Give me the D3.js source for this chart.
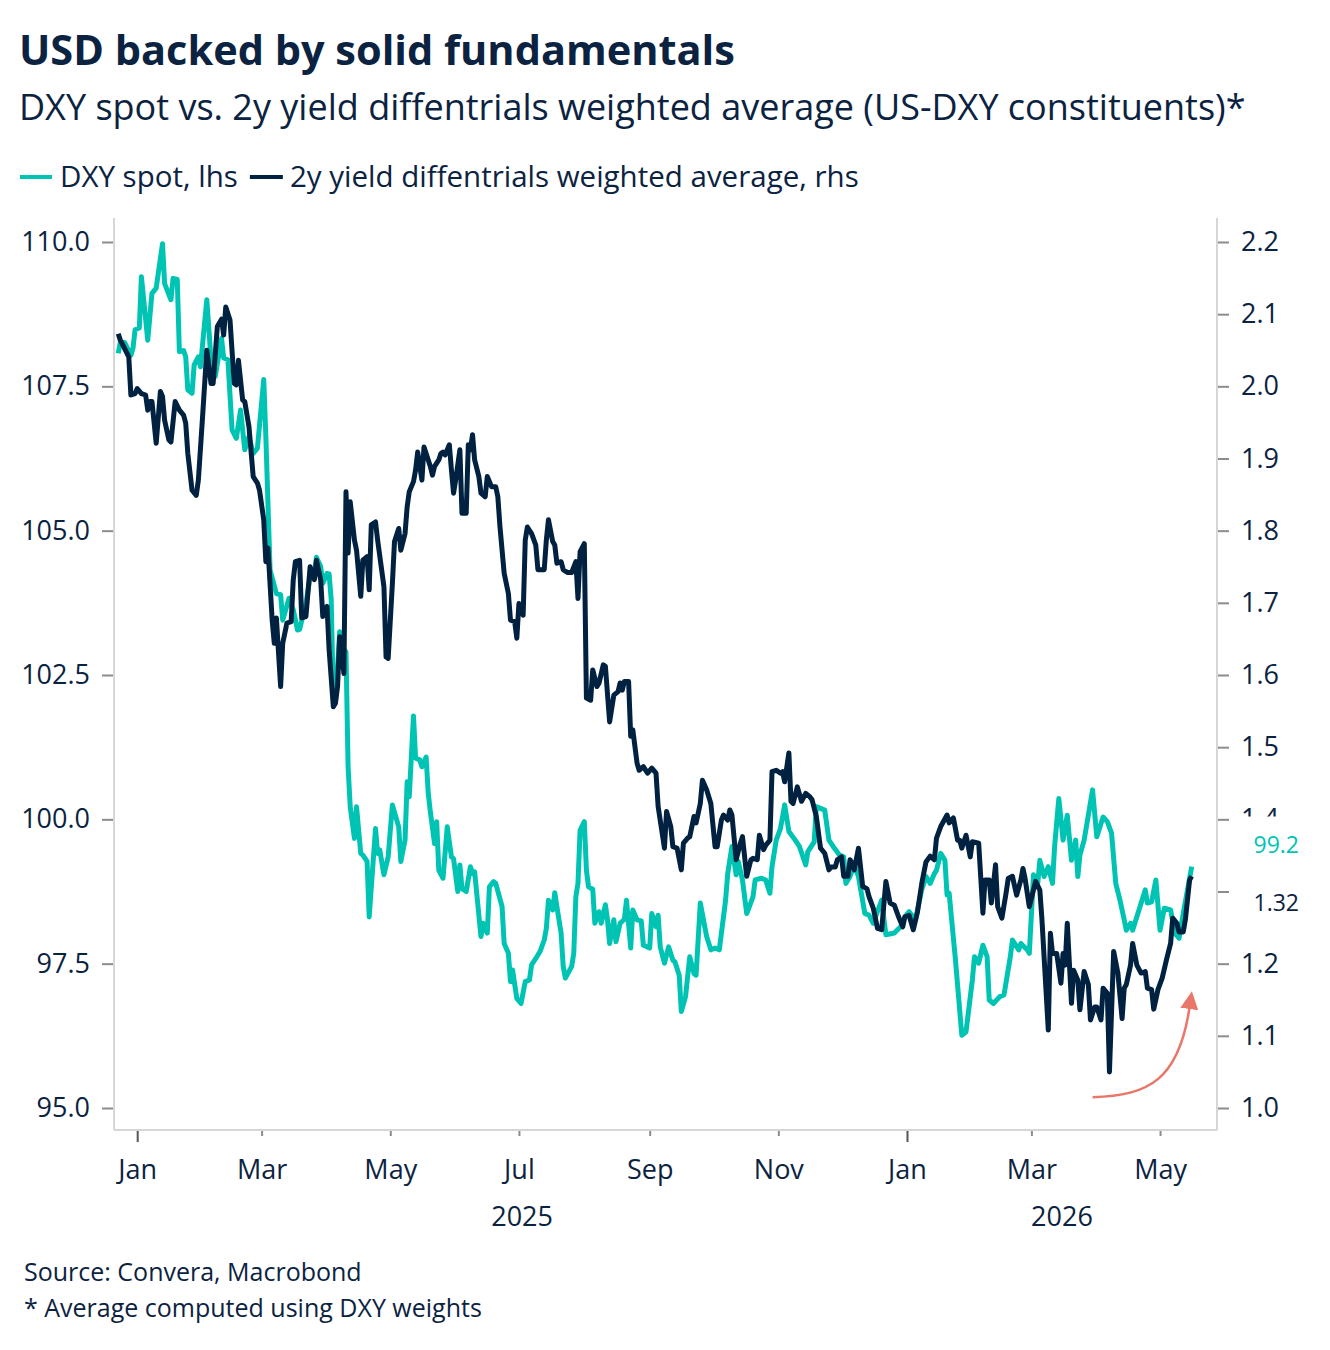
<!DOCTYPE html>
<html>
<head>
<meta charset="utf-8">
<script src="https://cdn.jsdelivr.net/npm/d3@7"></script>
<style>
  body { margin: 0; background: #fff; }
  text { font-family: "Open Sans", "Noto Sans", sans-serif; }
</style>
</head>
<body>
<div id="chart"></div>
<script>
// DXY spot (lhs)
const dxySpot = [
  ["2024-12-23",108.07],["2024-12-24",108.27],["2024-12-26",108.26],["2024-12-29",108.04],["2024-12-30",108.16],["2024-12-31",108.48],
  ["2025-01-02",108.51],["2025-01-03",109.40],["2025-01-06",108.30],["2025-01-08",109.11],["2025-01-10",109.20],["2025-01-13",109.97],
  ["2025-01-14",109.28],["2025-01-17",109.00],["2025-01-18",109.37],["2025-01-20",109.35],["2025-01-21",108.10],["2025-01-23",108.12],
  ["2025-01-24",108.01],["2025-01-25",107.44],["2025-01-27",107.38],["2025-01-28",107.87],["2025-01-30",108.01],["2025-01-31",107.84],
  ["2025-02-03",109.00],["2025-02-05",107.96],["2025-02-07",107.67],["2025-02-10",108.33],["2025-02-11",107.99],["2025-02-13",107.96],
  ["2025-02-15",106.74],["2025-02-17",106.60],["2025-02-19",107.09],["2025-02-21",106.40],["2025-02-23",106.63],["2025-02-25",106.34],
  ["2025-02-27",106.43],["2025-03-02",107.62],["2025-03-03",106.63],["2025-03-05",104.32],["2025-03-08",103.91],["2025-03-10",103.89],
  ["2025-03-11",103.45],["2025-03-14",103.83],["2025-03-16",103.63],["2025-03-18",103.28],["2025-03-19",103.29],["2025-03-22",103.74],
  ["2025-03-24",104.20],["2025-03-26",104.26],["2025-03-27",104.54],["2025-03-29",104.38],["2025-03-30",104.09],["2025-04-01",104.26],
  ["2025-04-02",104.25],["2025-04-03",103.80],["2025-04-04",102.07],["2025-04-06",102.64],["2025-04-07",103.25],["2025-04-08",102.99],
  ["2025-04-10",102.90],["2025-04-11",100.91],["2025-04-12",100.22],["2025-04-14",99.67],["2025-04-15",100.22],["2025-04-17",99.41],
  ["2025-04-18",99.38],["2025-04-20",99.27],["2025-04-21",98.31],["2025-04-24",99.84],["2025-04-25",99.41],["2025-04-26",99.47],
  ["2025-04-28",99.04],["2025-04-30",99.35],["2025-05-02",100.25],["2025-05-05",99.87],["2025-05-06",99.27],["2025-05-08",99.64],
  ["2025-05-09",100.65],["2025-05-10",100.39],["2025-05-12",101.79],["2025-05-13",101.06],["2025-05-15",101.03],["2025-05-16",100.91],
  ["2025-05-18",101.08],["2025-05-19",100.45],["2025-05-20",100.13],["2025-05-22",99.58],["2025-05-23",99.96],["2025-05-24",99.12],
  ["2025-05-26",98.98],["2025-05-28",99.87],["2025-05-30",99.35],["2025-05-31",99.32],["2025-06-02",98.75],["2025-06-03",99.21],
  ["2025-06-04",98.80],["2025-06-06",98.75],["2025-06-08",99.18],["2025-06-09",99.06],["2025-06-10",99.09],["2025-06-13",97.97],
  ["2025-06-14",98.20],["2025-06-16",98.03],["2025-06-17",98.83],["2025-06-19",98.92],["2025-06-20",98.89],["2025-06-23",98.49],
  ["2025-06-24",97.85],["2025-06-26",97.68],["2025-06-27",97.19],["2025-06-28",97.39],["2025-06-30",96.90],["2025-07-02",96.81],
  ["2025-07-04",97.19],["2025-07-06",97.22],["2025-07-07",97.48],["2025-07-09",97.59],["2025-07-11",97.71],["2025-07-13",97.91],
  ["2025-07-14",98.11],["2025-07-15",98.60],["2025-07-17",98.43],["2025-07-18",98.73],["2025-07-19",98.49],["2025-07-21",98.03],
  ["2025-07-22",97.45],["2025-07-23",97.25],["2025-07-26",97.45],["2025-07-27",97.68],["2025-07-28",98.66],["2025-07-29",98.89],
  ["2025-07-30",99.81],["2025-08-01",99.96],["2025-08-02",99.12],["2025-08-03",98.83],["2025-08-05",98.79],["2025-08-06",98.20],
  ["2025-08-08",98.40],["2025-08-09",98.20],["2025-08-11",98.52],["2025-08-12",98.26],["2025-08-13",97.85],["2025-08-15",98.26],
  ["2025-08-16",97.88],["2025-08-18",98.20],["2025-08-20",98.27],["2025-08-21",98.60],["2025-08-23",97.77],["2025-08-24",98.43],
  ["2025-08-26",98.26],["2025-08-28",98.24],["2025-08-29",97.82],["2025-09-01",97.77],["2025-09-02",98.37],["2025-09-04",98.14],
  ["2025-09-05",98.34],["2025-09-06",97.79],["2025-09-08",97.51],["2025-09-10",97.79],["2025-09-12",97.56],["2025-09-13",97.53],
  ["2025-09-15",97.30],["2025-09-16",96.67],["2025-09-18",96.93],["2025-09-20",97.62],["2025-09-22",97.33],["2025-09-23",97.30],
  ["2025-09-25",98.55],["2025-09-28",97.97],["2025-09-30",97.74],["2025-10-02",97.77],["2025-10-04",97.74],["2025-10-07",98.60],
  ["2025-10-08",99.06],["2025-10-10",99.53],["2025-10-12",99.04],["2025-10-13",99.27],["2025-10-15",98.95],["2025-10-17",98.37],
  ["2025-10-18",98.46],["2025-10-20",98.66],["2025-10-21",98.95],["2025-10-24",98.98],["2025-10-26",98.95],["2025-10-28",98.72],
  ["2025-10-29",99.18],["2025-10-31",99.64],["2025-11-02",99.84],["2025-11-04",100.25],["2025-11-06",99.79],["2025-11-09",99.64],
  ["2025-11-11",99.53],["2025-11-14",99.21],["2025-11-15",99.44],["2025-11-18",99.61],["2025-11-19",100.22],["2025-11-21",100.19],
  ["2025-11-23",100.16],["2025-11-25",99.64],["2025-11-27",99.53],["2025-11-30",99.38],["2025-12-02",99.35],["2025-12-03",98.89],
  ["2025-12-05",99.01],["2025-12-07",99.21],["2025-12-09",99.01],["2025-12-12",98.37],["2025-12-14",98.34],["2025-12-16",98.20],
  ["2025-12-20",98.60],["2025-12-22",98.00],["2025-12-26",98.03],["2025-12-29",98.14],["2025-12-31",98.31],["2026-01-02",98.40],
  ["2026-01-05",98.26],["2026-01-08",98.78],["2026-01-10",99.01],["2026-01-12",98.89],["2026-01-14",99.06],["2026-01-15",99.12],
  ["2026-01-17",99.41],["2026-01-19",99.29],["2026-01-20",98.69],["2026-01-21",98.72],["2026-01-24",97.56],["2026-01-27",96.26],
  ["2026-01-29",96.32],["2026-02-01",97.22],["2026-02-02",97.62],["2026-02-04",97.51],["2026-02-06",97.82],["2026-02-08",97.62],
  ["2026-02-09",96.87],["2026-02-11",96.81],["2026-02-14",96.93],["2026-02-16",96.96],["2026-02-19",97.62],["2026-02-20",97.91],
  ["2026-02-23",97.74],["2026-02-24",97.85],["2026-02-27",97.74],["2026-02-28",97.68],["2026-03-02",99.04],["2026-03-04",98.89],
  ["2026-03-05",99.29],["2026-03-07",99.01],["2026-03-09",99.18],["2026-03-11",98.89],["2026-03-12",99.53],["2026-03-14",100.36],
  ["2026-03-16",99.64],["2026-03-18",100.07],["2026-03-20",99.29],["2026-03-22",99.64],["2026-03-23",99.01],["2026-03-24",99.38],
  ["2026-03-26",99.64],["2026-03-30",100.51],["2026-04-01",99.70],["2026-04-04",100.04],["2026-04-06",99.96],["2026-04-08",99.76],
  ["2026-04-10",98.89],["2026-04-12",98.60],["2026-04-14",98.26],["2026-04-15",98.08],["2026-04-17",98.20],["2026-04-18",98.08],
  ["2026-04-21",98.43],["2026-04-24",98.78],["2026-04-25",98.55],["2026-04-27",98.57],["2026-04-29",98.95],["2026-05-01",98.08],
  ["2026-05-03",98.46],["2026-05-06",98.43],["2026-05-08",98.03],["2026-05-10",97.94],["2026-05-12",98.37],["2026-05-16",99.18]
];

// 2y yield differentials weighted average (rhs)
const yieldDiff = [
  ["2024-12-23",2.073],["2024-12-24",2.064],["2024-12-28",2.041],["2024-12-29",1.988],["2024-12-31",1.990],["2025-01-01",1.997],
  ["2025-01-03",1.990],["2025-01-05",1.988],["2025-01-06",1.967],["2025-01-07",1.979],["2025-01-08",1.979],["2025-01-10",1.921],
  ["2025-01-12",1.993],["2025-01-13",1.986],["2025-01-14",1.953],["2025-01-16",1.926],["2025-01-17",1.923],["2025-01-19",1.979],
  ["2025-01-21",1.967],["2025-01-23",1.960],["2025-01-24",1.949],["2025-01-25",1.907],["2025-01-27",1.856],["2025-01-29",1.849],
  ["2025-01-30",1.870],["2025-02-01",1.958],["2025-02-03",2.050],["2025-02-05",2.004],["2025-02-06",2.004],["2025-02-08",2.083],
  ["2025-02-10",2.093],["2025-02-11",2.071],["2025-02-12",2.110],["2025-02-14",2.092],["2025-02-16",2.004],["2025-02-17",2.002],
  ["2025-02-18",2.036],["2025-02-20",1.981],["2025-02-21",1.979],["2025-02-23",1.944],["2025-02-25",1.875],["2025-02-27",1.866],
  ["2025-02-28",1.856],["2025-03-02",1.815],["2025-03-03",1.757],["2025-03-04",1.776],["2025-03-06",1.676],["2025-03-07",1.644],
  ["2025-03-08",1.679],["2025-03-10",1.584],["2025-03-11",1.644],["2025-03-13",1.672],["2025-03-15",1.674],["2025-03-16",1.732],
  ["2025-03-17",1.757],["2025-03-19",1.759],["2025-03-20",1.679],["2025-03-22",1.681],["2025-03-24",1.750],["2025-03-26",1.732],
  ["2025-03-27",1.759],["2025-03-29",1.732],["2025-03-30",1.681],["2025-04-01",1.695],["2025-04-02",1.635],["2025-04-04",1.556],
  ["2025-04-05",1.561],["2025-04-06",1.584],["2025-04-07",1.653],["2025-04-08",1.632],["2025-04-09",1.602],["2025-04-10",1.854],
  ["2025-04-11",1.769],["2025-04-12",1.840],["2025-04-14",1.787],["2025-04-15",1.773],["2025-04-17",1.709],["2025-04-18",1.759],
  ["2025-04-20",1.764],["2025-04-21",1.718],["2025-04-22",1.808],["2025-04-24",1.812],["2025-04-25",1.787],["2025-04-28",1.722],
  ["2025-04-29",1.625],["2025-04-30",1.623],["2025-05-02",1.727],["2025-05-03",1.785],["2025-05-05",1.803],["2025-05-06",1.773],
  ["2025-05-08",1.796],["2025-05-09",1.833],["2025-05-10",1.854],["2025-05-12",1.868],["2025-05-13",1.884],["2025-05-14",1.909],
  ["2025-05-16",1.870],["2025-05-17",1.916],["2025-05-20",1.889],["2025-05-21",1.877],["2025-05-22",1.889],["2025-05-24",1.898],
  ["2025-05-25",1.907],["2025-05-26",1.909],["2025-05-27",1.905],["2025-05-29",1.919],["2025-05-30",1.884],["2025-05-31",1.852],
  ["2025-06-01",1.870],["2025-06-03",1.912],["2025-06-04",1.824],["2025-06-06",1.824],["2025-06-07",1.919],["2025-06-08",1.912],
  ["2025-06-09",1.933],["2025-06-10",1.898],["2025-06-12",1.875],["2025-06-13",1.852],["2025-06-15",1.847],["2025-06-16",1.875],
  ["2025-06-18",1.861],["2025-06-20",1.861],["2025-06-21",1.847],["2025-06-22",1.806],["2025-06-24",1.741],["2025-06-26",1.713],
  ["2025-06-27",1.676],["2025-06-29",1.674],["2025-06-30",1.651],["2025-07-01",1.699],["2025-07-03",1.683],["2025-07-04",1.787],
  ["2025-07-05",1.805],["2025-07-07",1.796],["2025-07-09",1.780],["2025-07-10",1.746],["2025-07-11",1.746],["2025-07-13",1.746],
  ["2025-07-14",1.787],["2025-07-15",1.815],["2025-07-17",1.785],["2025-07-18",1.780],["2025-07-19",1.755],["2025-07-21",1.757],
  ["2025-07-22",1.746],["2025-07-24",1.742],["2025-07-26",1.742],["2025-07-28",1.757],["2025-07-29",1.706],["2025-07-30",1.771],
  ["2025-08-01",1.782],["2025-08-02",1.568],["2025-08-04",1.565],["2025-08-05",1.607],["2025-08-07",1.584],["2025-08-08",1.589],
  ["2025-08-10",1.614],["2025-08-11",1.612],["2025-08-13",1.535],["2025-08-15",1.572],["2025-08-17",1.577],["2025-08-18",1.589],
  ["2025-08-19",1.579],["2025-08-20",1.591],["2025-08-22",1.591],["2025-08-23",1.515],["2025-08-24",1.524],["2025-08-26",1.478],
  ["2025-08-27",1.468],["2025-08-29",1.473],["2025-08-31",1.464],["2025-09-02",1.471],["2025-09-04",1.464],["2025-09-05",1.418],
  ["2025-09-08",1.360],["2025-09-09",1.411],["2025-09-11",1.390],["2025-09-12",1.362],["2025-09-14",1.360],["2025-09-16",1.330],
  ["2025-09-17",1.367],["2025-09-19",1.374],["2025-09-20",1.376],["2025-09-22",1.404],["2025-09-23",1.395],["2025-09-25",1.422],
  ["2025-09-26",1.454],["2025-09-28",1.441],["2025-09-30",1.422],["2025-10-02",1.362],["2025-10-03",1.362],["2025-10-05",1.399],
  ["2025-10-06",1.406],["2025-10-08",1.399],["2025-10-09",1.413],["2025-10-10",1.406],["2025-10-12",1.344],["2025-10-14",1.367],
  ["2025-10-15",1.376],["2025-10-17",1.321],["2025-10-19",1.344],["2025-10-20",1.346],["2025-10-22",1.344],["2025-10-23",1.378],
  ["2025-10-25",1.358],["2025-10-26",1.364],["2025-10-28",1.371],["2025-10-29",1.466],["2025-10-31",1.468],["2025-11-02",1.464],
  ["2025-11-03",1.466],["2025-11-04",1.452],["2025-11-06",1.492],["2025-11-07",1.425],["2025-11-08",1.422],["2025-11-10",1.445],
  ["2025-11-12",1.425],["2025-11-14",1.436],["2025-11-16",1.431],["2025-11-17",1.427],["2025-11-19",1.404],["2025-11-21",1.360],
  ["2025-11-23",1.353],["2025-11-25",1.330],["2025-11-26",1.334],["2025-11-28",1.334],["2025-11-29",1.344],["2025-12-01",1.348],
  ["2025-12-02",1.321],["2025-12-04",1.321],["2025-12-05",1.344],["2025-12-06",1.339],["2025-12-07",1.330],["2025-12-09",1.360],
  ["2025-12-11",1.307],["2025-12-13",1.304],["2025-12-14",1.293],["2025-12-16",1.277],["2025-12-18",1.249],["2025-12-20",1.247],
  ["2025-12-22",1.314],["2025-12-24",1.284],["2025-12-26",1.281],["2025-12-28",1.265],["2025-12-30",1.251],["2025-12-31",1.265],
  ["2026-01-02",1.267],["2026-01-04",1.247],["2026-01-06",1.272],["2026-01-08",1.311],["2026-01-10",1.341],["2026-01-12",1.349],
  ["2026-01-14",1.344],["2026-01-15",1.374],["2026-01-17",1.390],["2026-01-20",1.406],["2026-01-21",1.395],["2026-01-23",1.402],
  ["2026-01-25",1.371],["2026-01-26",1.371],["2026-01-27",1.360],["2026-01-29",1.378],["2026-01-31",1.348],["2026-02-01",1.369],
  ["2026-02-04",1.367],["2026-02-06",1.270],["2026-02-07",1.316],["2026-02-09",1.316],["2026-02-10",1.284],["2026-02-12",1.337],
  ["2026-02-13",1.279],["2026-02-15",1.263],["2026-02-17",1.298],["2026-02-18",1.318],["2026-02-20",1.321],["2026-02-22",1.295],
  ["2026-02-24",1.316],["2026-02-25",1.332],["2026-02-26",1.318],["2026-02-28",1.279],["2026-03-03",1.314],["2026-03-05",1.302],
  ["2026-03-06",1.261],["2026-03-09",1.108],["2026-03-10",1.242],["2026-03-11",1.214],["2026-03-13",1.214],["2026-03-15",1.173],
  ["2026-03-16",1.214],["2026-03-17",1.198],["2026-03-18",1.256],["2026-03-20",1.145],["2026-03-21",1.191],["2026-03-23",1.177],
  ["2026-03-24",1.136],["2026-03-26",1.189],["2026-03-28",1.171],["2026-03-29",1.122],["2026-03-31",1.140],["2026-04-01",1.140],
  ["2026-04-03",1.122],["2026-04-04",1.166],["2026-04-06",1.159],["2026-04-07",1.050],["2026-04-09",1.217],["2026-04-11",1.187],
  ["2026-04-13",1.124],["2026-04-14",1.166],["2026-04-15",1.171],["2026-04-17",1.198],["2026-04-18",1.228],["2026-04-20",1.198],
  ["2026-04-22",1.187],["2026-04-24",1.189],["2026-04-25",1.166],["2026-04-27",1.164],["2026-04-28",1.137],["2026-04-30",1.164],
  ["2026-05-02",1.180],["2026-05-04",1.205],["2026-05-06",1.228],["2026-05-07",1.263],["2026-05-09",1.256],["2026-05-10",1.244],
  ["2026-05-12",1.244],["2026-05-13",1.261],["2026-05-15",1.316],["2026-05-16",1.321]
];

const leftTicks = [95, 97.5, 100, 102.5, 105, 107.5, 110];
const rightTicks = [1.0, 1.1, 1.2, 1.3, 1.4, 1.5, 1.6, 1.7, 1.8, 1.9, 2.0, 2.1, 2.2];
const years = ["2025", "2026"];
// annotation arrow (date, rhs value): start, two control points, end
const arrowPts = [["2026-03-30",1.015],["2026-04-26",1.017],["2026-05-10",1.040],["2026-05-15",1.140]];

const teal = "#00c4b3", navy = "#00213f", ink = "#0b2341";

const W = 1330, H = 1350;
const plot = {left: 114, right: 1217, top: 218, bottom: 1130};

const parse = d3.utcParse("%Y-%m-%d");

const svg = d3.select("#chart").append("svg")
    .attr("width", W)
    .attr("height", H);

// scales
const x = d3.scaleUtc()
    .domain([parse("2024-12-21"), parse("2026-05-28")])
    .range([plot.left, plot.right]);
const yL = d3.scaleLinear().domain([95, 110]).range([1108, 242]);
const yR = d3.scaleLinear().domain([1.0, 2.2]).range([1108, 242]);

// title, subtitle
svg.append("text").attr("x", 19).attr("y", 65)
    .attr("font-size", 41.5).attr("font-weight", 700).attr("fill", ink)
    .text("USD backed by solid fundamentals");
svg.append("text").attr("x", 19).attr("y", 120)
    .attr("font-size", 36).attr("fill", ink)
    .text("DXY spot vs. 2y yield diffentrials weighted average (US-DXY constituents)*");

// legend
const leg = svg.append("g").attr("transform", "translate(20,177)");
leg.append("line").attr("x1", 0).attr("x2", 32).attr("stroke", teal).attr("stroke-width", 4);
const l1 = leg.append("text").attr("x", 40).attr("y", 10).attr("font-size", 29.5).attr("fill", ink)
    .text("DXY spot, lhs");
const l1End = 40 + l1.node().getComputedTextLength() + 12;
leg.append("line").attr("x1", l1End).attr("x2", l1End + 33).attr("stroke", navy).attr("stroke-width", 4);
leg.append("text").attr("x", l1End + 40).attr("y", 10).attr("font-size", 29.5).attr("fill", ink)
    .text("2y yield diffentrials weighted average, rhs");

// frame
const frame = svg.append("g").attr("stroke", "#d6d6d6").attr("stroke-width", 2);
frame.append("line").attr("x1", plot.left).attr("x2", plot.left).attr("y1", plot.top).attr("y2", plot.bottom);
frame.append("line").attr("x1", plot.right).attr("x2", plot.right).attr("y1", plot.top).attr("y2", plot.bottom);
frame.append("line").attr("x1", plot.left).attr("x2", plot.right).attr("y1", plot.bottom).attr("y2", plot.bottom);

// left axis
const axL = svg.append("g").attr("transform", `translate(${plot.left - 1},0)`)
    .call(d3.axisLeft(yL).tickValues(leftTicks).tickFormat(d3.format(".1f")).tickSize(11).tickPadding(12));
// right axis
const axR = svg.append("g").attr("transform", `translate(${plot.right + 1},0)`)
    .call(d3.axisRight(yR).tickValues(rightTicks).tickFormat(d3.format(".1f")).tickSize(11).tickPadding(12));
[axL, axR].forEach(a => {
  a.select(".domain").remove();
  a.selectAll(".tick line").attr("stroke", "#8c8c8c").attr("stroke-width", 2);
  a.selectAll(".tick text").attr("font-size", 27).attr("fill", ink)
      .style("font-family", '"Open Sans", "Noto Sans", sans-serif');
});

// bottom axis
const axB = svg.append("g").attr("transform", `translate(0,${plot.bottom + 1})`)
    .call(d3.axisBottom(x).ticks(d3.utcMonth.every(2)).tickFormat(d3.utcFormat("%b")).tickSize(5));
axB.select(".domain").remove();
axB.selectAll(".tick line").attr("stroke", "#8c8c8c").attr("stroke-width", 2)
    .filter(d => d.getUTCMonth() === 0).attr("y2", 11).attr("stroke", "#555");
axB.selectAll(".tick text").attr("font-size", 27).attr("fill", ink)
    .attr("y", 48).attr("dy", 0)
    .style("font-family", '"Open Sans", "Noto Sans", sans-serif');

// year labels centred on the visible part of each year
const [d0, d1] = x.domain();
years.forEach(yr => {
  const a = d3.max([parse(yr + "-01-01"), d0]);
  const b = d3.min([parse((+yr + 1) + "-01-01"), d1]);
  svg.append("text")
      .attr("x", (x(a) + x(b)) / 2).attr("y", plot.bottom + 96)
      .attr("text-anchor", "middle").attr("font-size", 27).attr("fill", ink)
      .text(yr);
});

// lines
const lineL = d3.line().x(d => x(parse(d[0]))).y(d => yL(d[1]));
const lineR = d3.line().x(d => x(parse(d[0]))).y(d => yR(d[1]));
svg.append("path").datum(dxySpot)
    .attr("d", lineL).attr("fill", "none").attr("stroke", teal)
    .attr("stroke-width", 5).attr("stroke-linejoin", "round");
svg.append("path").datum(yieldDiff)
    .attr("d", lineR).attr("fill", "none").attr("stroke", navy)
    .attr("stroke-width", 5).attr("stroke-linejoin", "round");

// annotation arrow
const arrowColor = "#e8766a";
svg.append("defs").append("marker")
    .attr("id", "head").attr("markerUnits", "userSpaceOnUse")
    .attr("markerWidth", 22).attr("markerHeight", 22)
    .attr("refX", 2).attr("refY", 9).attr("orient", "auto")
  .append("path").attr("d", "M0,0 L18,9 L0,18 Z").attr("fill", arrowColor);
const ap = arrowPts.map(d => [x(parse(d[0])), yR(d[1])]);
svg.append("path")
    .attr("d", `M${ap[0]} C${ap[1]} ${ap[2]} ${ap[3]}`)
    .attr("fill", "none").attr("stroke", arrowColor).attr("stroke-width", 2.5)
    .attr("marker-end", "url(#head)");

// last value labels on the right, pushed apart when they overlap
const lastL = dxySpot[dxySpot.length - 1][1];
const lastR = yieldDiff[yieldDiff.length - 1][1];
let pos = [{v: lastL, y: yL(lastL), c: teal, f: d3.format(".1f")},
           {v: lastR, y: yR(lastR), c: ink, f: d3.format(".2f")}].sort((a, b) => a.y - b.y);
const gap = 58;
if (pos[1].y - pos[0].y < gap) {
  const mid = (pos[0].y + pos[1].y) / 2 + 2;
  pos[0].y = mid - gap / 2;
  pos[1].y = mid + gap / 2;
}
const vl = svg.append("g");
pos.forEach(p => {
  vl.append("rect").attr("x", 1232).attr("y", p.y - 28).attr("width", 90).attr("height", 56).attr("fill", "#fff");
});
pos.forEach(p => {
  vl.append("text").attr("x", 1299).attr("y", p.y).attr("dy", "0.35em")
      .attr("text-anchor", "end").attr("font-size", 23).attr("fill", p.c)
      .text(p.f(p.v));
});

// footnotes
svg.append("text").attr("x", 24).attr("y", 1281).attr("font-size", 25).attr("fill", ink)
    .text("Source: Convera, Macrobond");
svg.append("text").attr("x", 24).attr("y", 1317).attr("font-size", 25).attr("fill", ink)
    .text("* Average computed using DXY weights");
</script>
</body>
</html>
